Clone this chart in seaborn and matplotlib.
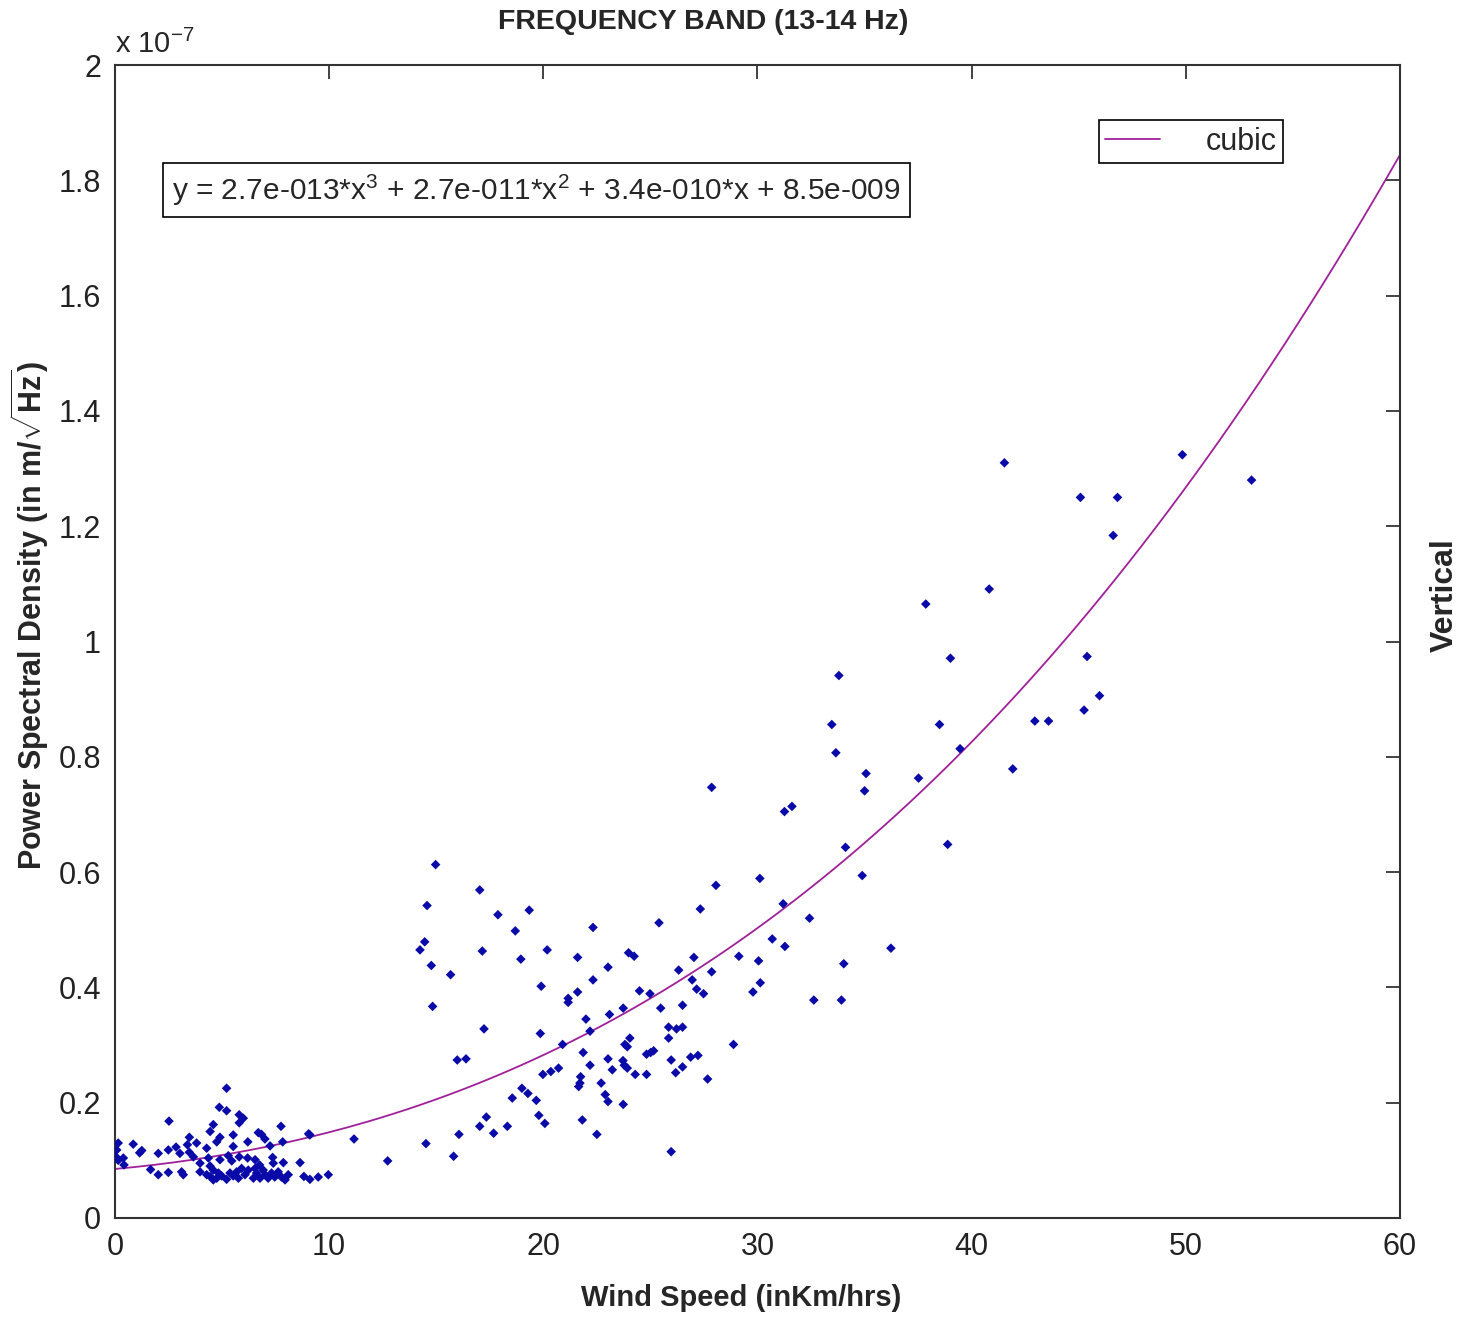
import numpy as np
import pandas as pd
import matplotlib
matplotlib.use("Agg")
import matplotlib.pyplot as plt
from matplotlib.ticker import FuncFormatter
import seaborn as sns

# wind speed (km/h) and PSD (units of 1e-7 m/sqrt(Hz))
wind_calm = [5.21, 4.87, 5.21, 2.52, 5.80, 5.99, 5.80, 4.59, 7.75, 9.04, 4.44, 3.47, 4.90,
             5.52, 6.69, 6.84, 7.00, 6.20, 0.85, 0.15, 3.81, 4.75, 3.38, 4.28, 5.52, 7.83,
             7.24, 1.25, 1.15, 2.49, 2.85, 2.02, 0.08, 0.05, 0.15, 0.39, 0.42, 3.03, 3.47,
             3.66, 3.97, 4.36, 4.44, 4.90, 5.29, 5.45, 5.80, 6.19, 6.54, 6.75, 7.36, 7.39,
             7.86, 8.64, 1.66, 2.02, 2.49, 3.11, 3.19, 3.97, 4.28, 4.59, 4.44, 4.59, 4.75,
             4.83, 4.98, 5.21, 5.37, 5.52, 5.68, 5.76, 5.91, 6.07, 6.22, 6.46, 6.54, 6.61,
             6.77, 6.92, 7.00, 7.15, 7.31, 7.46, 7.62, 7.77, 7.94, 8.09, 8.82, 9.10, 9.49,
             9.96, 9.10]
psd_calm = [0.225, 0.192, 0.186, 0.168, 0.179, 0.173, 0.165, 0.162, 0.159, 0.146, 0.150,
            0.140, 0.140, 0.144, 0.148, 0.145, 0.137, 0.132, 0.128, 0.130, 0.130, 0.132,
            0.127, 0.121, 0.124, 0.132, 0.125, 0.117, 0.113, 0.118, 0.123, 0.112, 0.118,
            0.106, 0.100, 0.104, 0.092, 0.112, 0.114, 0.106, 0.095, 0.104, 0.090, 0.101,
            0.108, 0.099, 0.106, 0.104, 0.101, 0.092, 0.105, 0.095, 0.096, 0.096, 0.084,
            0.075, 0.079, 0.080, 0.075, 0.080, 0.075, 0.083, 0.072, 0.066, 0.069, 0.078,
            0.073, 0.067, 0.078, 0.073, 0.080, 0.069, 0.086, 0.075, 0.083, 0.069, 0.086,
            0.078, 0.069, 0.083, 0.075, 0.069, 0.078, 0.071, 0.080, 0.071, 0.066, 0.075,
            0.072, 0.067, 0.071, 0.075, 0.144]

wind_mid = [14.97, 17.03, 14.57, 17.88, 19.34, 28.06, 27.33, 22.32, 25.40, 18.69, 14.46,
            14.24, 17.15, 20.18, 18.95, 21.60, 23.98, 24.24, 27.03, 29.13, 14.77, 15.67,
            23.02, 26.32, 27.86, 22.32, 26.95, 27.16, 27.48, 19.90, 21.60, 21.16, 21.16,
            24.49, 24.98, 14.83, 23.73, 25.48, 26.50, 23.09, 21.99, 17.23, 19.86, 22.18,
            25.85, 26.22, 26.50, 25.85, 24.04, 23.81, 23.92, 20.90, 28.88, 21.86, 24.82,
            25.01, 25.15, 15.98, 16.39, 23.02, 23.72, 23.78, 23.92, 22.18, 25.97, 26.88,
            27.22, 23.22, 24.29, 24.82, 26.18, 26.50, 27.67, 19.98, 20.35, 20.71, 21.74,
            21.71, 21.65, 22.70, 19.00, 19.28, 18.55, 19.67, 22.89, 23.02, 23.73, 19.79,
            20.07, 17.34, 17.03, 17.68, 18.32, 16.06, 21.82, 22.50, 25.97, 11.16, 14.52,
            12.73, 15.81]
psd_mid = [0.613, 0.569, 0.542, 0.526, 0.534, 0.577, 0.536, 0.504, 0.512, 0.498, 0.479,
           0.465, 0.463, 0.465, 0.449, 0.452, 0.460, 0.454, 0.452, 0.454, 0.438, 0.422,
           0.435, 0.430, 0.427, 0.413, 0.413, 0.397, 0.389, 0.402, 0.392, 0.381, 0.374,
           0.394, 0.389, 0.367, 0.364, 0.364, 0.369, 0.353, 0.345, 0.328, 0.320, 0.324,
           0.331, 0.328, 0.331, 0.312, 0.312, 0.301, 0.297, 0.301, 0.301, 0.287, 0.284,
           0.287, 0.290, 0.274, 0.276, 0.276, 0.273, 0.265, 0.260, 0.265, 0.274, 0.279,
           0.282, 0.257, 0.249, 0.249, 0.252, 0.262, 0.241, 0.249, 0.254, 0.260, 0.245,
           0.234, 0.228, 0.234, 0.225, 0.216, 0.208, 0.204, 0.214, 0.202, 0.197, 0.178,
           0.164, 0.175, 0.159, 0.147, 0.159, 0.145, 0.170, 0.145, 0.115, 0.137, 0.129,
           0.099, 0.107]

wind_high = [39.01, 33.80, 33.47, 38.50, 33.66, 39.46, 35.07, 35.00, 37.52, 27.86, 31.26,
             31.61, 34.11, 38.88, 34.89, 30.11, 31.20, 32.43, 30.69, 31.28, 36.23, 30.05,
             34.03, 30.13, 29.79, 32.63, 33.92, 49.84, 53.07, 41.53, 45.08, 46.81, 46.61,
             40.82, 45.39, 45.97, 45.25, 42.95, 43.59, 37.86, 41.92]
psd_high = [0.971, 0.941, 0.856, 0.856, 0.807, 0.814, 0.771, 0.741, 0.763, 0.747, 0.705,
            0.714, 0.643, 0.648, 0.594, 0.589, 0.545, 0.520, 0.484, 0.471, 0.468, 0.446,
            0.441, 0.408, 0.392, 0.378, 0.378, 1.324, 1.280, 1.310, 1.250, 1.250, 1.184,
            1.091, 0.974, 0.906, 0.881, 0.862, 0.862, 1.065, 0.779]

# cubic fit as printed on the chart (SI units)
cubic_coef = [2.7e-13, 2.7e-11, 3.4e-10, 8.5e-9]
fit_range = [0, 60]
scale = 1e-7

df = pd.DataFrame({
    "wind": wind_calm + wind_mid + wind_high,
    "psd": psd_calm + psd_mid + psd_high,
})
xs = np.linspace(fit_range[0], fit_range[1], 200)
fit = pd.DataFrame({"wind": xs, "psd": np.polyval(cubic_coef, xs) / scale})

sns.set_style("white")
plt.rcParams["font.family"] = ["Liberation Sans", "DejaVu Sans"]
plt.rcParams["mathtext.fontset"] = "custom"
plt.rcParams["mathtext.rm"] = "Liberation Sans"
plt.rcParams["mathtext.bf"] = "Liberation Sans:bold"

fig = plt.figure(figsize=(14.67, 13.17), dpi=100)
ax = fig.add_axes([0.0784, 0.0752, 0.8759, 0.8754])

sns.scatterplot(data=df, x="wind", y="psd", marker="D", s=24, color="#0a0aa8",
                edgecolor="none", ax=ax, zorder=3)
sns.lineplot(data=fit, x="wind", y="psd", color="#a0209a", linewidth=1.3,
             label="cubic", ax=ax, zorder=2)

ax.set_xlim(0, 60)
ax.set_ylim(0, 2)
ax.set_xticks(range(0, 61, 10))
ax.set_yticks(np.arange(0, 2.01, 0.2))
ax.yaxis.set_major_formatter(FuncFormatter(lambda v, p: "%g" % round(v, 1)))
ax.tick_params(direction="in", length=10, width=1.2, top=True, right=True,
               labelsize=22, colors="#222222", pad=10)
for sp in ax.spines.values():
    sp.set_color("#333333")
    sp.set_linewidth(1.5)

ax.set_xlabel("")
ax.set_ylabel("")
fig.text(0.505, 0.004, "Wind Speed (inKm/hrs)", ha="center", va="bottom",
         fontsize=21, fontweight="bold")
fig.text(0.02, 0.533, r"Power Spectral Density (in m/$\sqrt{\mathbf{Hz}}$)", rotation=90,
         ha="center", va="center", fontsize=22, fontweight="bold")
fig.text(0.985, 0.548, "Vertical", rotation=90, ha="center", va="center",
         fontsize=23, fontweight="bold")
fig.text(0.479, 0.983, "FREQUENCY BAND (13-14 Hz)", ha="center", va="center",
         fontsize=20.5, fontweight="bold")
ax.text(0.0, 1.005, r"x 10$^{-7}$", transform=ax.transAxes, ha="left", va="bottom",
        fontsize=21)

ax.text(0.0444, 0.8916,
        r"y = 2.7e-013*x$^3$ + 2.7e-011*x$^2$ + 3.4e-010*x + 8.5e-009",
        transform=ax.transAxes, ha="left", va="center", fontsize=21.5,
        bbox=dict(boxstyle="square,pad=0.3", facecolor="white", edgecolor="black",
                  linewidth=1.2))

leg = ax.legend(loc="upper right", bbox_to_anchor=(0.909, 0.952), borderaxespad=0,
                fontsize=22, fancybox=False, edgecolor="black", framealpha=1,
                handlelength=1.8, handletextpad=1.5, borderpad=0.2)
leg.get_frame().set_linewidth(1.2)

fig.savefig("out.png", dpi=100, facecolor="white")
